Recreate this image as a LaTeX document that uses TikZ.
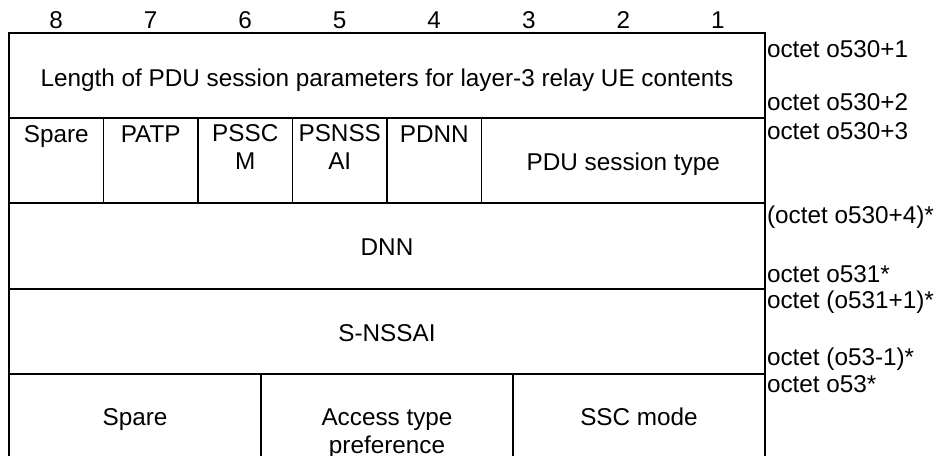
\documentclass[tikz,border=0pt]{standalone}
\usepackage{fontspec}
\setmainfont{Liberation Sans}
\begin{document}
\begin{tikzpicture}[x=1pt,y=-1pt,
  every node/.style={inner sep=0pt,outer sep=0pt,font=\fontsize{24.3}{28.4}\selectfont},
  grid/.style={line width=1.3pt,black},
  lbl/.style={anchor=base west},
  hd/.style={anchor=base},
  cell/.style={align=center,anchor=base}]
\useasboundingbox (0,0) rectangle (936,455);
% table lines
\draw[grid] (9,460) -- (9,33) -- (765,33) -- (765,460);
\draw[grid] (9,118) -- (765,118);
\draw[grid] (9,203) -- (765,203);
\draw[grid] (9,289) -- (765,289);
\draw[grid] (9,374) -- (765,374);
\draw[grid] (9,459) -- (765,459);
\foreach \x in {103.5,198,292.5,387,481.5} \draw[grid] (\x,118) -- (\x,203);
\draw[grid] (261,374) -- (261,460);
\draw[grid] (513,374) -- (513,460);
% header bits
\foreach \i/\x in {8/56.25,7/150.75,6/245.25,5/339.75,4/434.25,3/528.75,2/623.25,1/717.75}
  \node[hd] (b\i) at (\x,28) {\i};
% cells
\node[cell] (len) at (387,86) {Length of PDU session parameters for layer-3 relay UE contents};
\node[cell] (spare1) at (56.25,142) {Spare};
\node[cell] (patp) at (150.75,142) {PATP};
\node[cell,anchor=north] (psscm) at (245.25,124.5) {PSSC\\M};
\node[cell,anchor=north] (psnssai) at (339.75,124.5) {PSNSS\\AI};
\node[cell] (pdnn) at (434.25,142) {PDNN};
\node[cell] (ptype) at (623.25,170.5) {PDU session type};
\node[cell] (dnn) at (387,255.5) {DNN};
\node[cell] (snssai) at (387,341) {S-NSSAI};
\node[cell] (spare2) at (135,425.5) {Spare};
\node[cell,anchor=north] (atp) at (387,408.3) {Access type\\preference};
\node[cell] (ssc) at (639,425.5) {SSC mode};
% octet labels
\node[lbl] (o1) at (767,57) {octet o530+1};
\node[lbl] (o2) at (767,110) {octet o530+2};
\node[lbl] (o3) at (767,139) {octet o530+3};
\node[lbl] (o4) at (767,223) {(octet o530+4)*};
\node[lbl] (o5) at (767,282) {octet o531*};
\node[lbl] (o6) at (767,308) {octet (o531+1)*};
\node[lbl] (o7) at (767,365) {octet (o53-1)*};
\node[lbl] (o8) at (767,392) {octet o53*};
\end{tikzpicture}
\end{document}
